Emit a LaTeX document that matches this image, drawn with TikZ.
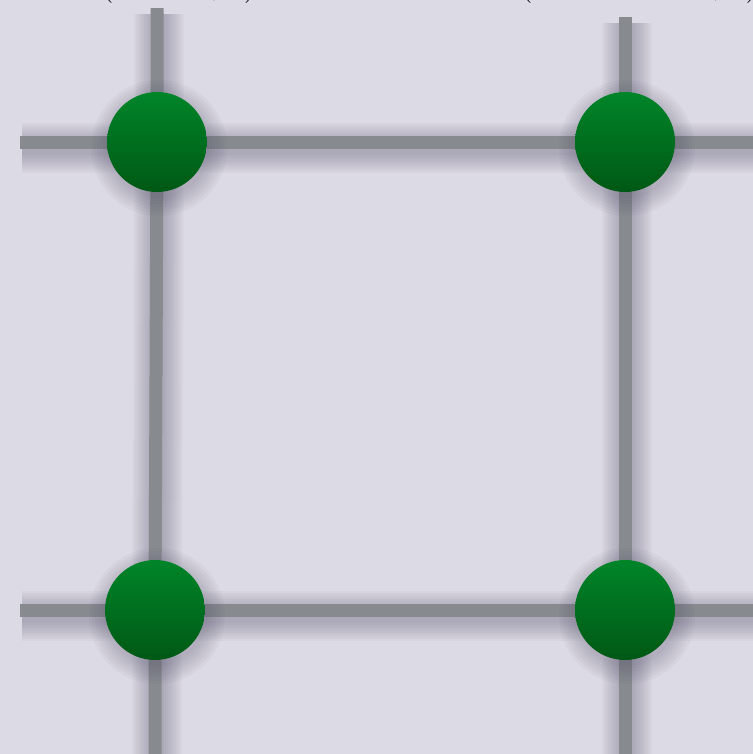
\documentclass[tikz,border=0pt]{standalone}
\usepackage{tikz}
\definecolor{bgcol}{HTML}{DCDAE4}
\definecolor{wirecol}{HTML}{878A8E}
\definecolor{greentop}{HTML}{008529}
\definecolor{greenbot}{HTML}{005814}
\definecolor{shadecol}{HTML}{4A4660}

\begin{document}
\begin{tikzpicture}[
    x=0.02cm, y=-0.02cm,
    site/.style={circle, minimum size=2cm, inner sep=0pt, top color=greentop, bottom color=greenbot},
    wire/.style={draw=wirecol, line width=0.26cm},
    wireshade/.style={draw=shadecol, opacity=0.035},
    coordlabel/.style={font=\fontsize{26}{30}\selectfont, anchor=base west, inner sep=0pt},
]
    \fill[bgcol] (0,0) rectangle (753,754);
    \useasboundingbox (0,0) rectangle (753,754);
    \clip (0,0) rectangle (753,754);

    % labels above the lattice, cut by the frame
    \node[coordlabel] (lab1) at (98,-8) {$(x+1, t)$};
    \node[coordlabel] (lab2) at (517,-8) {$(x+L-1, t)$};

    % lattice sites
    \coordinate (tl) at (157,142);
    \coordinate (tr) at (625,142);
    \coordinate (bl) at (155,610);
    \coordinate (br) at (625,610);

    % free ends of the wires
    \coordinate (tlW) at (20,142);
    \coordinate (tlN) at (157,8);
    \coordinate (trN) at (625,17);
    \coordinate (trE) at (760,142);
    \coordinate (blW) at (20,610);
    \coordinate (blS) at (155,760);
    \coordinate (brS) at (625,760);
    \coordinate (brE) at (760,610);

    % soft shadows of the wires
    \foreach \w in {14,18,...,50}
        \foreach \a/\b in {tlW/trE, blW/brE, tlN/tl, tl/bl, bl/blS, trN/tr, tr/br, br/brS}
            \draw[wireshade, line width=\w*0.02cm] ([shift={(2,6)}]\a) -- ([shift={(2,6)}]\b);

    % wires
    \draw[wire] (tlW) -- (tl) -- (tr) -- (trE);
    \draw[wire] (blW) -- (bl) -- (br) -- (brE);
    \draw[wire] (tlN) -- (tl) -- (bl) -- (blS);
    \draw[wire] (trN) -- (tr) -- (br) -- (brS);

    % soft shadows of the sites
    \foreach \p in {tl,tr,bl,br}
        \foreach \r in {50,53,...,68}
            \fill[shadecol, opacity=0.045] ([shift={(2,6)}]\p) circle (\r);

    \node[site] (s1) at (tl) {};
    \node[site] (s2) at (tr) {};
    \node[site] (s3) at (bl) {};
    \node[site] (s4) at (br) {};
\end{tikzpicture}
\end{document}
